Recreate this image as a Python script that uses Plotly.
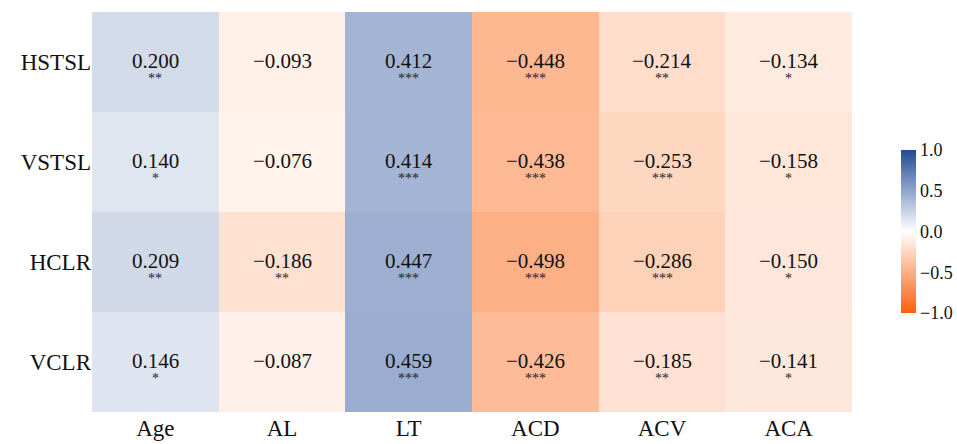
import plotly.graph_objects as go

cols = ["Age", "AL", "LT", "ACD", "ACV", "ACA"]
rows = ["HSTSL", "VSTSL", "HCLR", "VCLR"]
vals = [
    [0.200, -0.093, 0.412, -0.448, -0.214, -0.134],
    [0.140, -0.076, 0.414, -0.438, -0.253, -0.158],
    [0.209, -0.186, 0.447, -0.498, -0.286, -0.150],
    [0.146, -0.087, 0.459, -0.426, -0.185, -0.141],
]
stars = [
    ["**", "", "***", "***", "**", "*"],
    ["*", "", "***", "***", "***", "*"],
    ["**", "**", "***", "***", "***", "*"],
    ["*", "", "***", "***", "**", "*"],
]

FONT = "Liberation Serif"
cscale = [[0.0, "rgb(250,95,10)"], [0.5, "rgb(255,255,255)"], [1.0, "rgb(35,75,150)"]]

fig = go.Figure(go.Heatmap(
    z=vals, x=cols, y=rows, zmin=-1, zmax=1, colorscale=cscale,
    hoverinfo="skip",
    colorbar=dict(
        x=1.051, xanchor="left", y=0.451, yanchor="middle",
        len=183, lenmode="pixels", thickness=15, outlinewidth=0,
        tickvals=[-1, -0.5, 0, 0.5, 1],
        ticktext=["\u22121.0", "\u22120.5", "0.0", "0.5", "1.0"],
        tickfont=dict(family=FONT, size=18, color="#111"), ticks="",
    ),
))

anns = []
for i, r in enumerate(rows):
    for j, c in enumerate(cols):
        v = vals[i][j]
        txt = ("\u2212" if v < 0 else "") + f"{abs(v):.3f}"
        anns.append(dict(x=c, y=r, text=txt, showarrow=False, yshift=1,
                         font=dict(family=FONT, size=21, color="#111")))
        if stars[i][j]:
            anns.append(dict(x=c, y=r, text=stars[i][j], showarrow=False, yshift=-16,
                             font=dict(family=FONT, size=14, color="#222")))

fig.update_layout(
    width=957, height=444,
    margin=dict(l=92, r=105, t=12, b=32, autoexpand=False),
    paper_bgcolor="white", plot_bgcolor="white",
    annotations=anns,
    xaxis=dict(side="bottom", showgrid=False, zeroline=False, ticks="", automargin=False,
               ticklen=6, tickcolor="rgba(0,0,0,0)",
               tickfont=dict(family=FONT, size=23, color="#111")),
    yaxis=dict(autorange="reversed", showgrid=False, zeroline=False, ticks="", automargin=False,
               ticklen=4, tickcolor="rgba(0,0,0,0)",
               tickfont=dict(family=FONT, size=23, color="#111")),
)

fig.write_html("out.html", config={"displayModeBar": False},
               post_script="document.body.style.margin='0';")
